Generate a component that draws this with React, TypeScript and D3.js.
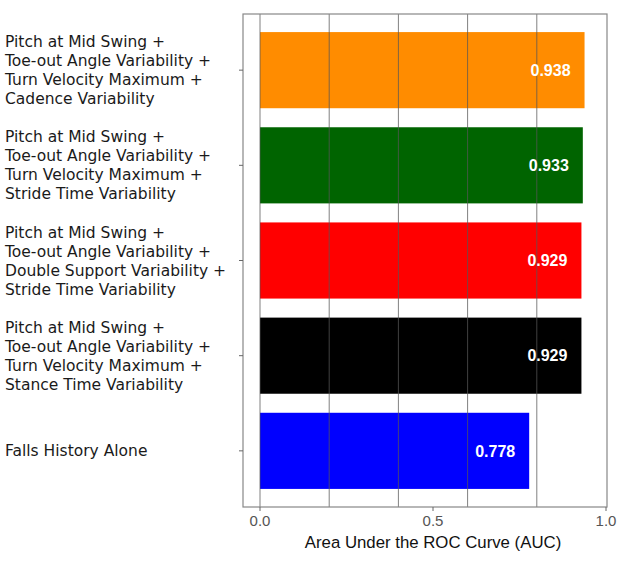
import React, { useEffect, useRef } from 'react';
import * as d3 from 'd3';

const models = [
  ['Pitch at Mid Swing +', 'Toe-out Angle Variability +', 'Turn Velocity Maximum +', 'Cadence Variability'],
  ['Pitch at Mid Swing +', 'Toe-out Angle Variability +', 'Turn Velocity Maximum +', 'Stride Time Variability'],
  ['Pitch at Mid Swing +', 'Toe-out Angle Variability +', 'Double Support Variability +', 'Stride Time Variability'],
  ['Pitch at Mid Swing +', 'Toe-out Angle Variability +', 'Turn Velocity Maximum +', 'Stance Time Variability'],
  ['Falls History Alone'],
];
const aucValues = [0.938, 0.933, 0.929, 0.929, 0.778];
const barColors = ['#ff8c00', '#006400', '#ff0000', '#000000', '#0000ff'];
const xTicks = [0, 0.5, 1.0];
const gridValues = [0, 0.2, 0.4, 0.6, 0.8];

const W = 624;
const H = 562;

const App = () => {
  const svgRef = useRef<SVGSVGElement | null>(null);

  useEffect(() => {
    if (!svgRef.current) return;
    const svg = d3.select(svgRef.current);
    svg.selectAll('*').remove();

    const left = 243, right = 607, top = 14, bottom = 507;

    const xScale = d3.scaleLinear().domain([0, 1]).range([260, 606]);
    const yScale = d3
      .scaleBand<number>()
      .domain(d3.range(models.length))
      .range([top, bottom])
      .paddingInner(0.2)
      .paddingOuter(0.19);

    // bars
    svg.append('g')
      .selectAll('rect')
      .data(aucValues)
      .enter()
      .append('rect')
      .attr('x', xScale(0))
      .attr('y', (_d, i) => yScale(i)!)
      .attr('width', (d) => xScale(d) - xScale(0))
      .attr('height', yScale.bandwidth())
      .attr('fill', (_d, i) => barColors[i]);

    // grid lines drawn over the bars
    svg.append('g')
      .selectAll('line')
      .data(gridValues)
      .enter()
      .append('line')
      .attr('x1', (d) => xScale(d))
      .attr('x2', (d) => xScale(d))
      .attr('y1', top)
      .attr('y2', bottom)
      .attr('stroke', '#555')
      .attr('stroke-opacity', 0.75)
      .attr('stroke-width', 1);

    // frame
    svg.append('rect')
      .attr('x', left)
      .attr('y', top)
      .attr('width', right - left)
      .attr('height', bottom - top)
      .attr('fill', 'none')
      .attr('stroke', '#888')
      .attr('stroke-width', 1.2);

    // value labels
    svg.append('g')
      .selectAll('text')
      .data(aucValues)
      .enter()
      .append('text')
      .attr('x', (d) => xScale(d) - 14)
      .attr('y', (_d, i) => yScale(i)! + yScale.bandwidth() / 2)
      .attr('dy', '0.36em')
      .attr('text-anchor', 'end')
      .attr('fill', '#fff')
      .attr('font-family', 'Liberation Sans, Arial, sans-serif')
      .attr('font-weight', 'bold')
      .attr('font-size', 16)
      .text((d) => d.toFixed(3));

    // y ticks
    svg.append('g')
      .selectAll('line')
      .data(d3.range(models.length))
      .enter()
      .append('line')
      .attr('x1', left - 4)
      .attr('x2', left)
      .attr('y1', (i) => yScale(i)! + yScale.bandwidth() / 2)
      .attr('y2', (i) => yScale(i)! + yScale.bandwidth() / 2)
      .attr('stroke', '#666');

    // y labels
    const lineH = 19;
    const labels = svg.append('g');
    models.forEach((lines, i) => {
      const cy = yScale(i)! + yScale.bandwidth() / 2;
      const t = labels.append('text')
        .attr('font-family', 'DejaVu Sans, Verdana, sans-serif')
        .attr('font-size', 15.5)
        .attr('fill', '#1a1a1a');
      lines.forEach((ln, j) => {
        t.append('tspan')
          .attr('x', 5)
          .attr('y', cy + (j - (lines.length - 1) / 2) * lineH)
          .attr('dy', '0.36em')
          .text(ln);
      });
    });

    // x ticks
    const xt = svg.append('g');
    xTicks.forEach((v) => {
      xt.append('line')
        .attr('x1', xScale(v))
        .attr('x2', xScale(v))
        .attr('y1', bottom)
        .attr('y2', bottom + 4)
        .attr('stroke', '#666');
      xt.append('text')
        .attr('x', xScale(v))
        .attr('y', 526)
        .attr('text-anchor', 'middle')
        .attr('font-family', 'Liberation Sans, Arial, sans-serif')
        .attr('font-size', 15)
        .attr('fill', '#555')
        .text(v.toFixed(1));
    });

    svg.append('text')
      .attr('x', xScale(0.5))
      .attr('y', 548)
      .attr('text-anchor', 'middle')
      .attr('font-family', 'Liberation Sans, Arial, sans-serif')
      .attr('font-size', 16.8)
      .attr('fill', '#111')
      .text('Area Under the ROC Curve (AUC)');
  }, []);

  return (
    <svg
      ref={svgRef}
      width={W}
      height={H}
      style={{ display: 'block', position: 'absolute', left: 0, top: 0, background: '#fff' }}
    ></svg>
  );
};

export default App;
